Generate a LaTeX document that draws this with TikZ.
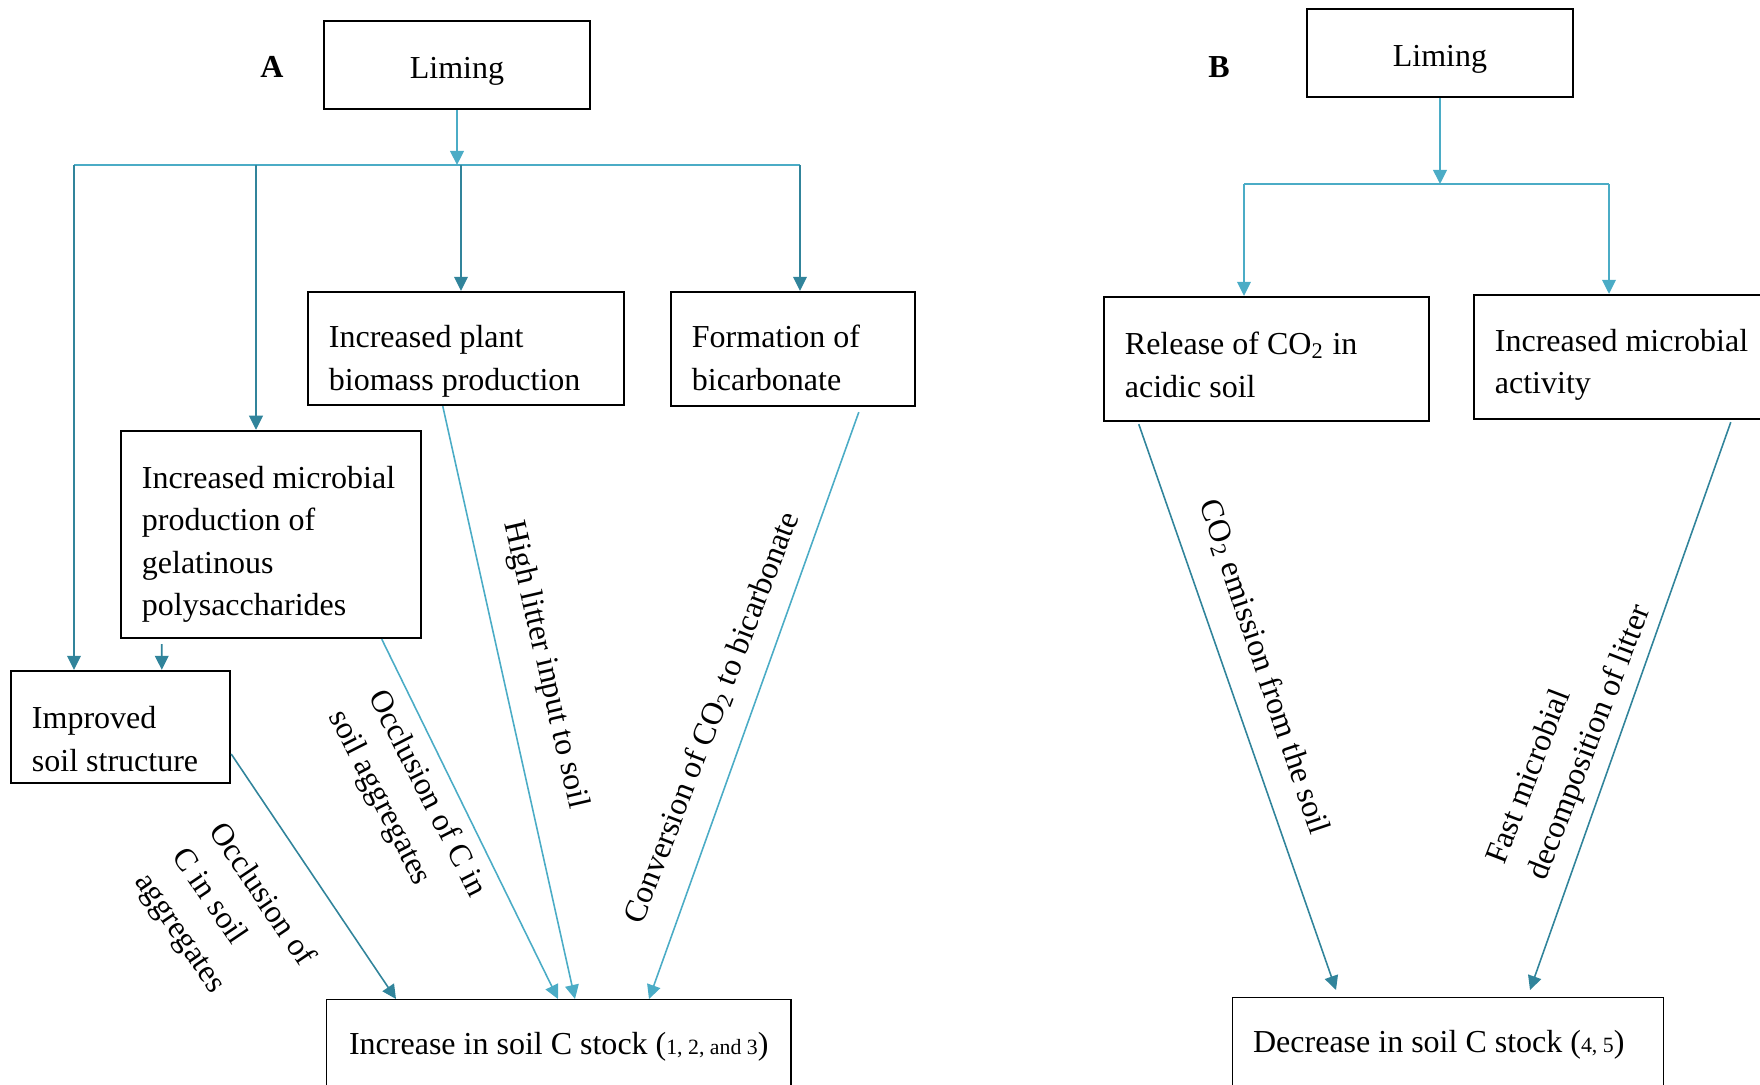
\documentclass[tikz,border=0pt]{standalone}
\usepackage{fontspec}
\setmainfont{Liberation Serif}
\usetikzlibrary{arrows.meta,calc}
\definecolor{liteteal}{HTML}{4BACC6}
\definecolor{darkteal}{HTML}{31849B}

\begin{document}
\begin{tikzpicture}[x=0.01cm,y=-0.01cm,
  every node/.style={font=\fontsize{9.1pt}{12.1pt}\selectfont},
  rootbox/.style={draw,line width=0.65pt,minimum width=26.6mm,minimum height=8.8mm,execute at begin node={\rule{0pt}{3.4mm}}},
  box/.style={draw,line width=0.65pt,align=flush left,inner xsep=2.1mm,inner ysep=0pt,execute at begin node={\rule{0pt}{#1}}},
  box/.default=4mm,
  stockbox/.style={draw,line width=0.35pt,align=flush left,inner ysep=0pt,minimum height=9.4mm,anchor=north west},
  panel/.style={font=\fontsize{9.1pt}{12pt}\selectfont\bfseries},
  lbl/.style={align=left,inner sep=0pt,font=\fontsize{9.1pt}{12.6pt}\selectfont},
  lite/.style={liteteal,line width=0.45pt},
  litearr/.style={lite,-{Triangle[length=4pt,width=3.9pt]}},
  darkarr/.style={darkteal,line width=0.45pt,-{Triangle[length=4pt,width=3.9pt]}}]
\useasboundingbox (0,0) rectangle (1760,1085);
\node[panel] (labA) at (272,67) {A};
\node[rootbox] (limA) at (457,65) {Liming};
\node[box=4.8mm,text width=27.4mm,minimum height=11.3mm] (plant) at (466,348.5) {Increased plant\\biomass production};
\node[box=4mm,text width=20.2mm,minimum height=11.4mm] (form) at (793,349) {Formation of\\bicarbonate};
\node[box=4.2mm,text width=25.8mm,minimum height=20.7mm] (mic) at (271,534.5) {Increased microbial\\production of\\gelatinous\\polysaccharides};
\node[box=4.6mm,text width=17.7mm,minimum height=11.2mm] (imp) at (120.5,727) {Improved\\soil structure};
\node[stockbox,align=center,inner xsep=1.9mm,minimum width=46.4mm] (inc) at (326,999) {Increase in soil C stock ({\fontsize{6.2pt}{7pt}\selectfont 1, 2, and 3})};
\coordinate (jA) at (457,165);
\coordinate (hAl) at (74,165);
\coordinate (hA2) at (256,165);
\coordinate (hA3) at (461,165);
\coordinate (hAr) at (800,165);
\draw[litearr] (limA) -- (jA);
\draw[lite] (hAl) -- (hAr);
\draw[darkarr] (hAl) -- (hAl |- imp.north);
\draw[darkarr] (hA2) -- (hA2 |- mic.north);
\draw[darkarr] (hA3) -- (hA3 |- plant.north);
\draw[darkarr] (hAr) -- (hAr |- form.north);
\draw[darkarr] ($(mic.south west)+(42,5)$) -- ($(imp.north west)+(152,0)$);
\draw[darkarr] ($(imp.east)+(0,27)$) -- ($(inc.north west)+(70,0)$);
\draw[litearr] ($(mic.south west)+(262,0)$) -- ($(inc.north west)+(232,0)$);
\draw[litearr] ($(plant.south west)+(136,0)$) -- ($(inc.north west)+(249,0)$);
\draw[litearr] ($(form.south west)+(189,5)$) -- ($(inc.north west)+(323,0)$);
\node[lbl,rotate=-56] (occA) at (224,920) {Occlusion of\\C in soil\\aggregates};
\node[lbl,rotate=-63] (occB) at (407,804) {Occlusion of C in\\soil aggregates};
\node[lbl,rotate=-77] (litter) at (545,665) {High litter input to soil};
\node[lbl,rotate=69] (conv) at (712,718) {Conversion of CO\textsubscript{2} to bicarbonate};
\node[panel] (labB) at (1219,67) {B};
\node[rootbox] (limB) at (1440,53) {Liming};
\node[box=3.4mm,text width=28.3mm,minimum height=12.4mm] (rel) at (1266.5,359) {Release of CO\textsubscript{2} in\\acidic soil};
\node[box=3.8mm,text width=27.4mm,minimum height=12.4mm] (micB) at (1632,357) {Increased microbial\\activity};
\node[stockbox,text width=39.6mm,inner xsep=1.75mm] (dec) at (1232,997) {\hspace*{0.3mm}Decrease in soil C stock ({\fontsize{6.2pt}{7pt}\selectfont 4, 5})};
\coordinate (jB) at (1440,184);
\coordinate (hBl) at (1244,184);
\coordinate (hBr) at (1609,184);
\draw[litearr] (limB) -- (jB);
\draw[lite] (hBl) -- (hBr);
\draw[litearr] (hBl) -- (hBl |- rel.north);
\draw[litearr] (hBr) -- (hBr |- micB.north);
\draw[darkarr] ($(rel.south west)+(36,2)$) -- ($(dec.north west)+(104,-7)$);
\draw[darkarr] ($(micB.south west)+(258,2)$) -- ($(dec.north west)+(298,-7)$);
\node[lbl,rotate=-71.5] (emis) at (1264,667) {CO\textsubscript{2} emission from the soil};
\node[lbl,rotate=69] (decomp) at (1570,735) {Fast microbial\\decomposition of litter};
\end{tikzpicture}
\end{document}
